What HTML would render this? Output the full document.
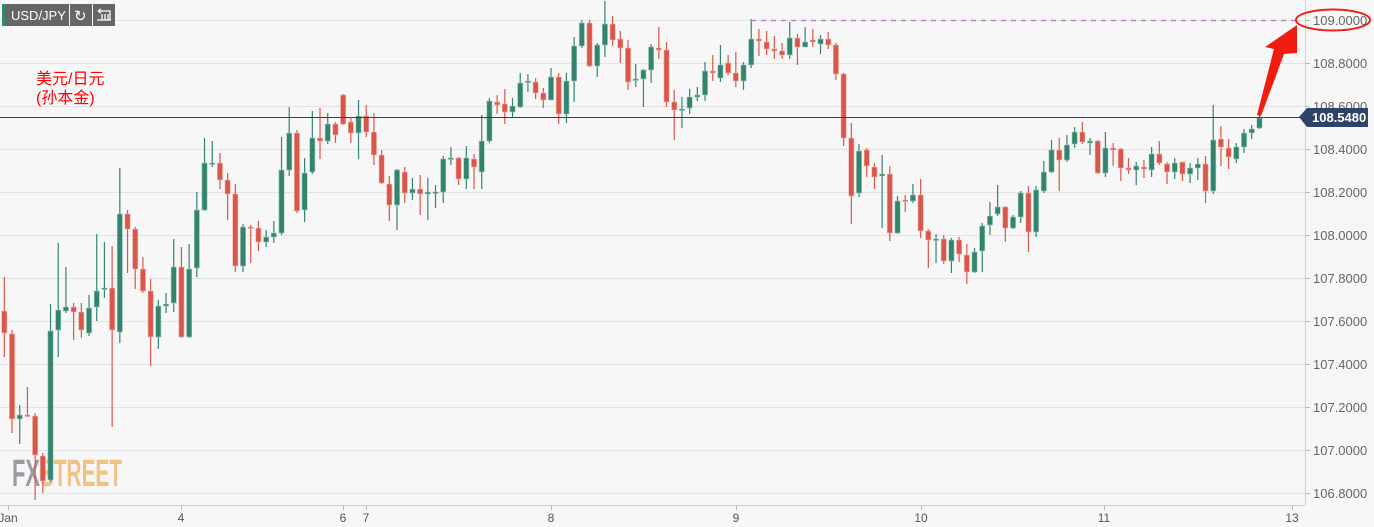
<!DOCTYPE html>
<html><head><meta charset="utf-8">
<style>
html,body{margin:0;padding:0;background:#f7f7f7;width:1374px;height:527px;overflow:hidden;font-family:"Liberation Sans",sans-serif}
svg{position:absolute;left:0;top:0}
</style></head><body>
<svg id="c" width="1374" height="527" xmlns="http://www.w3.org/2000/svg">
<rect width="1374" height="527" fill="#f7f7f7"/>
<g id="grid" stroke="#e3e3e3" stroke-width="1"></g>
<line x1="1305.5" y1="0" x2="1305.5" y2="505" stroke="#d0d0d8"/>
<line x1="0" y1="505.5" x2="1305" y2="505.5" stroke="#d0d0d8"/>
<g id="ylab" font-size="13" fill="#666"></g>
<g id="xlab" font-size="12" fill="#555"></g>
<text x="12" y="486" font-size="38" font-weight="bold" fill="#9a9aa2" textLength="28" lengthAdjust="spacingAndGlyphs">FX</text>
<text x="40" y="486" font-size="38" font-weight="bold" fill="#f2c184" textLength="82" lengthAdjust="spacingAndGlyphs">STREET</text>
<g id="candles"></g>
<line x1="751" y1="20.5" x2="1300" y2="20.5" stroke="#c47bd0" stroke-width="1.5" stroke-dasharray="5,5"/>
<line x1="0" y1="117.5" x2="1305" y2="117.5" stroke="#2d4060" stroke-width="1"/>
<polygon points="1299,117 1307,108 1368,108 1368,127 1307,127" fill="#2d4466"/>
<text x="1312" y="122" font-size="13" font-weight="bold" fill="#fff">108.5480</text>
<ellipse cx="1333" cy="20" rx="37" ry="10.5" fill="none" stroke="#e8231b" stroke-width="2"/>
<polygon points="1297,25 1265,47 1274,49 1257,115 1261,116 1284,54 1297,53" fill="#f01c10"/>
<rect x="2" y="4" width="67" height="22" fill="#666"/>
<rect x="2" y="4" width="3" height="22" fill="#2f8a6e"/>
<text x="11" y="20" font-size="13" fill="#fff">USD/JPY</text>
<rect x="70" y="4" width="22" height="22" fill="#666"/>
<text x="74" y="21" font-size="15" fill="#fff">↻</text>
<rect x="93" y="4" width="22" height="22" fill="#666"/>
<path d="M98 11h12v9M102 14v6M105 14v6M108 14v6M97 20h14M98 11l3-2M98 11l3 2" stroke="#fff" stroke-width="1.3" fill="none"/>
<text x="36" y="84" font-size="16" fill="#ff0000" font-family="'Liberation Sans','Noto Sans CJK SC',sans-serif">美元/日元</text>
<text x="36" y="103" font-size="16" fill="#ff0000" font-family="'Liberation Sans','Noto Sans CJK SC',sans-serif">(孙本金)</text>
</svg>
<script>
var NS="http://www.w3.org/2000/svg";
function el(n,a,p){var e=document.createElementNS(NS,n);for(var k in a)e.setAttribute(k,a[k]);if(p)p.appendChild(e);return e;}
var g=document.getElementById('grid'),yl=document.getElementById('ylab'),xl=document.getElementById('xlab');
for(var i=0;i<12;i++){var y=20+i*43;el('line',{x1:0,x2:1305,y1:y+.5,y2:y+.5},g);
el('line',{x1:1305,x2:1310,y1:y+.5,y2:y+.5,stroke:'#bbb'},document.getElementById('c'));
var t=el('text',{x:1313,y:y+5},yl);t.textContent=(109-i*0.2).toFixed(4);}
var xs=[[8,'Jan'],[181,'4'],[343,'6'],[366,'7'],[551,'8'],[736,'9'],[921,'10'],[1104,'11'],[1292,'13']];
xs.forEach(function(a){el('line',{x1:a[0]+.5,x2:a[0]+.5,y1:505,y2:510,stroke:'#bbb'},document.getElementById('c'));
var t=el('text',{x:a[0],y:522,'text-anchor':'middle'},xl);t.textContent=a[1];});
var D=[
[311,333,277,357,'r'],[334,419,330,433,'r'],[415,419,405,444,'g'],[415,416,387,417,'r'],[416,455,413,500,'r'],[456,481,453,493,'r'],
[331,480,304,482,'g'],[310,330,243,357,'g'],[307,311,267,313,'g'],[307,312,303,340,'r'],[312,330,303,338,'r'],[308,333,295,336,'g'],
[291,307,234,321,'g'],[288,289,242,298,'g'],[288,330,246,427,'r'],[214,332,168,343,'g'],[214,229,210,273,'r'],[229,269,227,289,'r'],
[269,291,257,293,'r'],[291,337,279,366,'r'],[306,337,300,349,'g'],[304,306,293,313,'g'],[267,303,239,312,'g'],[267,337,247,338,'r'],
[269,337,244,338,'g'],[210,268,192,277,'g'],[163,210,138,211,'g'],[163,164,141,167,'g'],[163,180,153,189,'r'],[180,194,173,220,'r'],
[194,266,184,272,'r'],[227,266,224,272,'g'],[227,228,225,263,'r'],[228,242,221,251,'r'],[237,242,230,247,'g'],[233,237,221,243,'g'],
[170,233,137,235,'g'],[133,170,107,176,'g'],[133,211,130,213,'r'],[173,210,158,222,'g'],[138,172,111,174,'g'],[138,141,108,159,'r'],
[124,141,113,144,'g'],[124,135,122,143,'r'],[95,124,94,125,'r'],[122,133,117,143,'r'],[116,133,100,159,'g'],[116,132,105,137,'r'],
[132,155,113,165,'r'],[155,183,150,184,'r'],[184,205,176,221,'r'],[170,205,169,230,'g'],[172,193,167,203,'r'],[189,193,178,200,'g'],
[189,194,175,215,'r'],[192,194,178,220,'g'],[192,193,185,208,'g'],[159,192,156,203,'g'],[158,159,147,165,'g'],[158,179,157,185,'r'],
[158,179,146,189,'g'],[159,167,154,189,'r'],[141,172,115,189,'g'],[101,141,98,143,'g'],[102,105,95,114,'r'],[104,112,89,124,'r'],
[106,112,98,118,'g'],[83,107,73,108,'g'],[81,82,74,92,'g'],[82,93,78,99,'r'],[93,100,88,108,'r'],[77,100,68,100,'g'],
[77,114,73,124,'r'],[81,114,73,123,'g'],[46,81,37,102,'g'],[23,46,20,48,'g'],[23,66,20,67,'r'],[45,66,43,77,'g'],
[24,45,1,57,'g'],[24,40,16,46,'r'],[39,48,31,63,'r'],[48,82,40,90,'r'],[79,80,64,87,'g'],[70,79,69,107,'g'],
[47,70,44,83,'g'],[48,50,27,59,'r'],[50,102,42,107,'r'],[102,110,90,140,'r'],[109,110,97,128,'g'],[97,108,89,114,'g'],
[95,97,87,101,'g'],[71,95,62,101,'g'],[71,73,55,81,'r'],[65,78,45,82,'g'],[63,73,55,75,'r'],[73,81,52,87,'r'],
[65,81,62,90,'g'],[39,65,19,68,'g'],[39,41,29,56,'r'],[42,49,31,55,'r'],[49,51,36,59,'r'],[51,55,43,59,'r'],
[38,55,22,59,'g'],[38,47,34,65,'r'],[42,47,27,47,'g'],[40,42,29,47,'r'],[39,44,35,54,'g'],[39,45,32,49,'r'],
[45,74,43,80,'r'],[74,138,73,146,'r'],[138,196,123,224,'r'],[151,193,144,197,'g'],[150,166,148,177,'r'],[167,177,163,189,'r'],
[174,176,155,228,'g'],[174,233,166,241,'r'],[201,233,196,234,'g'],[200,201,195,212,'r'],[195,201,184,203,'g'],[195,231,179,238,'r'],
[231,240,229,268,'r'],[239,240,234,263,'g'],[239,261,235,264,'r'],[240,261,238,273,'g'],[240,254,237,262,'r'],[255,272,244,284,'r'],
[252,272,248,273,'g'],[226,251,223,272,'g'],[216,225,202,235,'g'],[207,214,185,216,'g'],[207,228,206,242,'r'],[217,228,215,229,'g'],
[193,217,191,223,'g'],[193,232,186,252,'r'],[190,232,186,237,'g'],[172,191,161,193,'g'],[150,172,140,173,'g'],[150,160,138,191,'r'],
[145,160,135,162,'g'],[132,144,127,148,'g'],[132,142,122,144,'r'],[141,143,138,155,'g'],[141,173,140,174,'r'],[148,173,132,177,'g'],
[148,150,143,166,'r'],[149,168,148,181,'r'],[168,170,158,174,'r'],[166,170,162,185,'g'],[167,169,160,178,'r'],[154,170,147,177,'g'],
[154,163,141,165,'r'],[164,172,162,184,'r'],[163,172,158,179,'g'],[162,174,162,181,'r'],[168,174,163,183,'g'],[164,168,158,180,'g'],
[164,191,156,203,'r'],[140,191,105,194,'g'],[139,147,126,166,'r'],[148,157,139,169,'r'],[147,159,143,163,'g'],[133,147,129,153,'g'],
[129,133,125,139,'g'],[118,128,115,129,'g']];
var cg=document.getElementById('candles');
D.forEach(function(d,i){var x=4.33+i*7.70;var col=d[4]=='g'?'#34836f':'#d9574a';
el('line',{x1:x,x2:x,y1:d[2],y2:d[3],stroke:col,'stroke-width':1.2},cg);
var h=Math.max(d[1]-d[0],1.5);
el('rect',{x:x-2.6,y:d[0],width:5.2,height:h,fill:col,stroke:d[4]=='g'?'#9cc9bb':'#f0b0a8','stroke-width':0.6},cg);});
</script>
</body></html>
